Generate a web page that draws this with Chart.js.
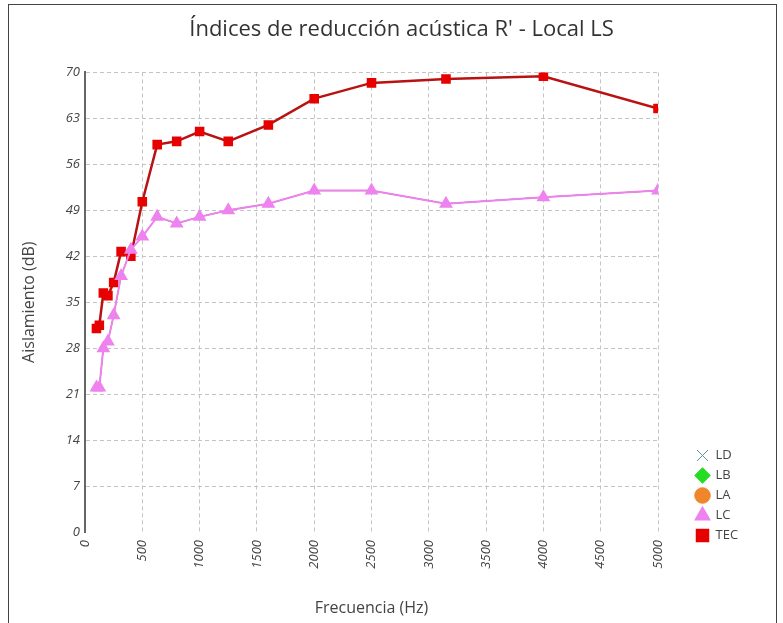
<!DOCTYPE html>
<html>
<head>
<meta charset="utf-8">
<script src="https://cdn.jsdelivr.net/npm/chart.js@4.4.1/dist/chart.umd.min.js"></script>
<style>
  html, body { margin: 0; padding: 0; background: #fff; }
  #wrap { position: relative; width: 783px; height: 623px; overflow: hidden; }
  #frame { position: absolute; left: 8px; top: 4px; width: 767px; height: 660px; border: 1px solid #444; }
  #myChart { position: absolute; left: 0; top: 0; }
</style>
</head>
<body>
<div id="wrap">
  <div id="frame"></div>
  <canvas id="myChart" width="783" height="623"></canvas>
</div>
<script>
// frequency bands (Hz)
var freqs = [100, 125, 160, 200, 250, 315, 400, 500, 630, 800, 1000, 1250, 1600, 2000, 2500, 3150, 4000, 5000];

// series (dB)
var ldValues = [22, 22, 28, 29, 33, 39, 43, 45, 48, 47, 48, 49, 50, 52, 52, 50, 51, 52];
var lbValues = [22, 22, 28, 29, 33, 39, 43, 45, 48, 47, 48, 49, 50, 52, 52, 50, 51, 52];
var laValues = [22, 22, 28, 29, 33, 39, 43, 45, 48, 47, 48, 49, 50, 52, 52, 50, 51, 52];
var lcValues = [22, 22, 28, 29, 33, 39, 43, 45, 48, 47, 48, 49, 50, 52, 52, 50, 51, 52];
var tecValues = [31, 31.5, 36.4, 36, 38, 42.7, 42, 50.3, 59, 59.5, 61, 59.5, 62, 66, 68.4, 69, 69.4, 64.5];

// axis ticks
var yTicks = [0, 7, 14, 21, 28, 35, 42, 49, 56, 63, 70];
var xTicks = [0, 500, 1000, 1500, 2000, 2500, 3000, 3500, 4000, 4500, 5000];

function pts(values) {
  return freqs.map(function (f, i) { return { x: f, y: values[i] }; });
}

var ctx = document.getElementById('myChart');

var data = {
  datasets: [
    {
      label: "LD",
      data: pts(ldValues),
      borderColor: "#5f9595",
      backgroundColor: "#5f9595",
      borderWidth: 1,
      pointStyle: "crossRot",
      radius: 3,
      order: 2
    },
    {
      label: "LB",
      data: pts(lbValues),
      borderColor: "#22dd22",
      backgroundColor: "#22dd22",
      borderWidth: 1,
      pointStyle: "rectRot",
      radius: 3,
      order: 3
    },
    {
      label: "LA",
      data: pts(laValues),
      borderColor: "#f0862a",
      backgroundColor: "#f0862a",
      borderWidth: 1,
      pointStyle: "circle",
      radius: 3,
      order: 4
    },
    {
      label: "LC",
      data: pts(lcValues),
      borderColor: "#ee82ee",
      backgroundColor: "#ee82ee",
      borderWidth: 2,
      pointStyle: "triangle",
      radius: 6,
      order: 0
    },
    {
      label: "TEC",
      data: pts(tecValues),
      borderColor: "#b81212",
      backgroundColor: "#e60000",
      pointBorderColor: "#e60000",
      borderWidth: 2.5,
      pointStyle: "rect",
      radius: 5,
      order: 1
    }
  ]
};

var tickFont = { family: "'Open Sans', sans-serif", size: 13, style: "italic" };
var gridColor = function (c) { return c.tick && c.tick.value === 0 ? "rgba(0,0,0,0)" : "#c4c4c4"; };

// move the legend to the right, beside the lower part of the plot
var legendShift = {
  id: "legendShift",
  afterLayout: function (chart) {
    chart.legend.top += 17;
    chart.legend.bottom += 17;
    chart.legend.left += 31;
    chart.legend.right += 31;
  }
};

//options
var options = {
  responsive: false,
  animation: false,
  layout: { padding: { left: 20, right: 0, top: 0, bottom: 0 } },
  elements: { line: { tension: 0, fill: false } },
  plugins: {
    title: {
      display: true,
      text: "Índices de reducción acústica R' - Local LS",
      color: "#333",
      font: { family: "'Open Sans', sans-serif", size: 22, weight: "normal" },
      padding: { top: 17, bottom: 29 }
    },
    legend: {
      display: true,
      position: "right",
      align: "end",
      fullSize: false,
      labels: {
        usePointStyle: true,
        boxHeight: 11,
        padding: 7,
        color: "#444",
        font: { family: "'Open Sans', sans-serif", size: 13 },
        sort: function (a, b) { return a.datasetIndex - b.datasetIndex; }
      }
    },
    tooltip: { enabled: false }
  },
  scales: {
    x: {
      type: "linear",
      min: 0,
      max: 5000,
      afterBuildTicks: function (s) { s.ticks = xTicks.map(function (v) { return { value: v }; }); },
      afterFit: function (s) { s.height = 91; s.paddingRight = 125; },
      border: { display: false, dash: [4, 3] },
      grid: { color: gridColor, drawTicks: false },
      ticks: {
        color: "#444",
        font: tickFont,
        minRotation: 90,
        maxRotation: 90,
        padding: 8,
        callback: function (v) { return String(v); }
      },
      title: {
        display: true,
        text: "Frecuencia (Hz)",
        color: "#444",
        font: { family: "'Open Sans', sans-serif", size: 16 },
        padding: { top: 0, bottom: 5 }
      }
    },
    y: {
      min: 0,
      max: 70,
      afterBuildTicks: function (s) { s.ticks = yTicks.map(function (v) { return { value: v }; }); },
      afterFit: function (s) { s.width = 65; },
      border: { display: true, color: "#666", width: 2, dash: [4, 3] },
      grid: { color: gridColor, drawTicks: false },
      ticks: { color: "#444", font: tickFont, padding: 5 },
      title: {
        display: true,
        text: "Aislamiento (dB)",
        color: "#444",
        font: { family: "'Open Sans', sans-serif", size: 16 },
        padding: { top: 0, bottom: 0 }
      }
    }
  }
};

//create Chart class object
var chart = new Chart(ctx, {
  type: "line",
  data: data,
  options: options,
  plugins: [legendShift]
});
</script>
</body>
</html>
